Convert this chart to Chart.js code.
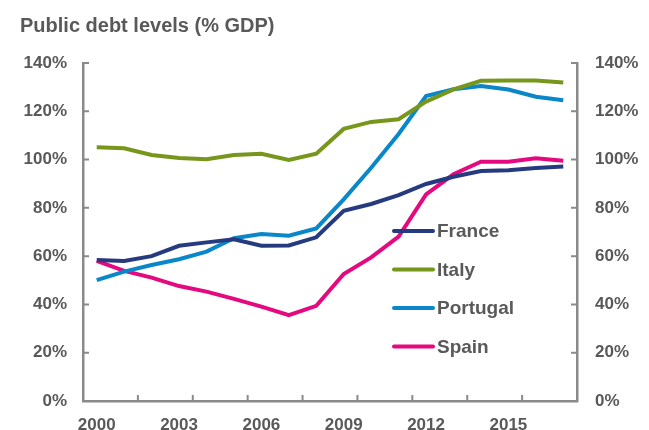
<!DOCTYPE html>
<html>
<head>
<meta charset="utf-8">
<script src="https://cdn.jsdelivr.net/npm/chart.js@4"></script>
<style>
  html, body { margin: 0; padding: 0; background: #fff; }
  #wrap { width: 649px; height: 430px; }
</style>
</head>
<body>
<div id="wrap"><canvas id="debtChart" width="649" height="430"></canvas></div>
<script>
const years = [2000, 2001, 2002, 2003, 2004, 2005, 2006, 2007, 2008,
               2009, 2010, 2011, 2012, 2013, 2014, 2015, 2016, 2017];
const france   = [58.4, 58.0, 60.0, 64.3, 65.7, 67.0, 64.3, 64.4, 67.8, 78.8, 81.6, 85.3, 89.9, 92.9, 95.3, 95.6, 96.5, 97.1];
const italy    = [105.1, 104.7, 101.9, 100.7, 100.1, 101.9, 102.4, 99.8, 102.4, 112.7, 115.6, 116.7, 124.0, 129.1, 132.6, 132.7, 132.7, 131.9];
const portugal = [50.1, 53.6, 56.3, 58.7, 61.9, 67.4, 69.2, 68.5, 71.5, 83.5, 96.6, 110.6, 126.3, 129.1, 130.5, 129.0, 126.0, 124.6];
const spain    = [58.0, 53.9, 51.1, 47.6, 45.3, 42.3, 39.1, 35.6, 39.4, 52.6, 59.5, 68.1, 85.6, 93.9, 99.1, 99.1, 100.5, 99.5];
const xTickYears = [2000, 2003, 2006, 2009, 2012, 2015];
const yTicks = [0, 20, 40, 60, 80, 100, 120, 140];

const titleText = "Public debt levels (% GDP)";
const textColor = "#595959";
const axisColor = "#8a8a8a";
const fontFamily = "'Liberation Sans', Arial, Helvetica, sans-serif";

// inward tick marks, title and the in-plot legend
const decorations = {
  id: "decorations",
  afterDraw(chart) {
    const { ctx, chartArea: a, scales: { x, y } } = chart;
    ctx.save();
    ctx.strokeStyle = axisColor;
    ctx.lineWidth = 2;
    ctx.beginPath();
    yTicks.forEach(v => {
      const py = y.getPixelForValue(v);
      ctx.moveTo(a.left, py); ctx.lineTo(a.left + 6, py);
      ctx.moveTo(a.right, py); ctx.lineTo(a.right - 6, py);
    });
    for (let i = 2; i < years.length; i += 2) {
      const px = (x.getPixelForValue(i - 1) + x.getPixelForValue(i)) / 2;
      ctx.moveTo(px, a.bottom); ctx.lineTo(px, a.bottom - 6);
    }
    ctx.stroke();

    ctx.fillStyle = textColor;
    ctx.font = "bold 20px " + fontFamily;
    ctx.textBaseline = "middle";
    ctx.textAlign = "left";
    ctx.fillText(titleText, 20, 26);

    ctx.font = "bold 19px " + fontFamily;
    chart.data.datasets.forEach((ds, i) => {
      const ly = 231 + i * 38.5;
      ctx.strokeStyle = ds.borderColor;
      ctx.lineWidth = 4;
      ctx.lineCap = "round";
      ctx.beginPath();
      ctx.moveTo(394, ly); ctx.lineTo(433, ly);
      ctx.stroke();
      ctx.fillStyle = textColor;
      ctx.fillText(ds.label, 437, ly + 1);
    });
    ctx.restore();
  }
};

const line = (label, data, color) => ({
  label, data,
  borderColor: color,
  backgroundColor: color,
  borderWidth: 4,
  pointRadius: 0,
  tension: 0,
  yAxisID: "y"
});

const tickFont = { family: fontFamily, size: 17, weight: "bold" };

new Chart(document.getElementById("debtChart"), {
  type: "line",
  data: {
    labels: years,
    datasets: [
      line("France", france, "#263a80"),
      line("Italy", italy, "#77961c"),
      line("Portugal", portugal, "#0a87c9"),
      line("Spain", spain, "#e5097f")
    ]
  },
  options: {
    responsive: false,
    animation: false,
    layout: { padding: { top: 63, left: 0, right: 0, bottom: 0 } },
    plugins: {
      legend: { display: false },
      tooltip: { enabled: false }
    },
    scales: {
      x: {
        offset: true,
        grid: { display: false },
        border: { display: true, color: axisColor, width: 2.5 },
        ticks: {
          autoSkip: false,
          maxRotation: 0,
          color: textColor,
          font: tickFont,
          padding: 6,
          callback: function (v, i) {
            const yr = years[i];
            return xTickYears.includes(yr) ? String(yr) : "";
          }
        },
        afterFit(s) { s.height = 29; }
      },
      y: {
        position: "left",
        min: 0, max: 140,
        grid: { display: false },
        border: { display: true, color: axisColor, width: 2.5 },
        ticks: { stepSize: 20, color: textColor, font: tickFont, padding: 8, callback: v => v + "%" },
        afterFit(s) { s.width = 83; }
      },
      y2: {
        position: "right",
        display: true,
        min: 0, max: 140,
        grid: { display: false },
        border: { display: true, color: axisColor, width: 2.5 },
        ticks: { stepSize: 20, color: textColor, font: tickFont, padding: 10, callback: v => v + "%" },
        afterFit(s) { s.width = 72; }
      }
    }
  },
  plugins: [decorations]
});
</script>
</body>
</html>
